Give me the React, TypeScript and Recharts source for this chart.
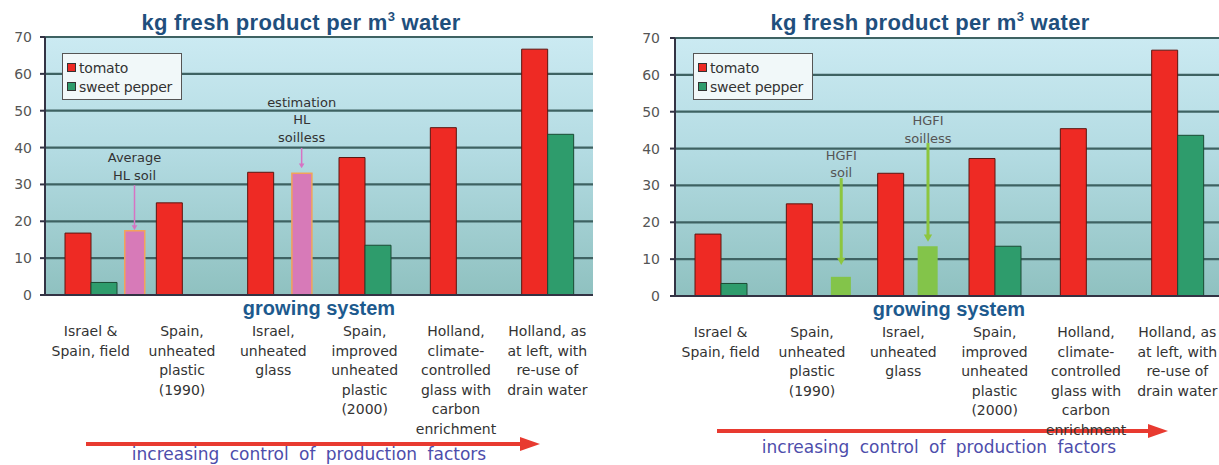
import React from 'react';
import { BarChart, Bar, XAxis, YAxis, CartesianGrid, Legend, ReferenceDot, ReferenceLine } from 'recharts';

// ---------- data ----------
const categories = [
  'Israel &\nSpain, field',
  'Spain,\nunheated\nplastic\n(1990)',
  'Israel,\nunheated\nglass',
  'Spain,\nimproved\nunheated\nplastic\n(2000)',
  'Holland,\nclimate-\ncontrolled\nglass with\ncarbon\nenrichment',
  'Holland, as\nat left, with\nre-use of\ndrain water',
];
const tomato = [16.8, 25.0, 33.3, 37.3, 45.4, 66.7];
const sweetPepper: (number | null)[] = [3.4, null, null, 13.5, null, 43.6];
const yTicks = [0, 10, 20, 30, 40, 50, 60, 70];
const legendOrder = ['tomato', 'pepper'];

// left panel annotations (HL)
const leftNotePos = [0.98, 2.81];
const leftNoteValue = [17.4, 33.0];
const leftNoteText = ['Average\nHL soil', 'estimation\nHL\nsoilless'];
const leftNoteTextAt = [37.4, 52.4];
const leftArrowFrom = [29.8, 39.9];
const leftArrowTo = [17.6, 34.4];

// right panel annotations (HGFI)
const rightNotePos = [1.82, 2.77];
const rightNoteValue = [5.2, 13.5];
const rightNoteText = ['HGFI\nsoil', 'HGFI\nsoilless'];
const rightNoteTextAt = [38.3, 47.7];
const rightArrowFrom = [32.0, 41.5];
const rightArrowTo = [8.4, 14.7];

const SMALL_FONT = '"DejaVu Sans", sans-serif';
const BOLD_FONT = '"Liberation Sans", Arial, sans-serif';

function buildRows(notePos: number[], noteValue: number[]) {
  return categories.map((cat, i) => {
    const k = notePos.findIndex((p) => Math.floor(p) === i);
    return {
      cat,
      tomato: tomato[i],
      pepper: sweetPepper[i],
      notePos: k >= 0 ? notePos[k] : i + 0.5,
      note: k >= 0 ? noteValue[k] : null,
    };
  });
}

const CatTick = (props: any) => {
  const { x, y, payload } = props;
  const lines = String(payload.value).split('\n');
  return (
    <text x={x} y={y + 33} textAnchor="middle" fontFamily={SMALL_FONT} fontSize={14} fill="#333">
      {lines.map((l, i) => (
        <tspan key={i} x={x} dy={i === 0 ? 0 : 19.6}>
          {l}
        </tspan>
      ))}
    </text>
  );
};

const LegendBox = (props: any) => {
  const items = (props.payload || [])
    .filter((p: any) => legendOrder.includes(p.dataKey))
    .sort((a: any, b: any) => legendOrder.indexOf(a.dataKey) - legendOrder.indexOf(b.dataKey));
  return (
    <div
      style={{
        width: 120,
        height: 47,
        boxSizing: 'border-box',
        background: '#f1f8f9',
        border: '1.5px solid #555',
        padding: '4px 0 0 4px',
        fontFamily: SMALL_FONT,
        fontSize: 14,
        color: '#333',
      }}
    >
      {items.map((it: any) => (
        <div key={it.dataKey} style={{ display: 'flex', alignItems: 'center', height: 19, letterSpacing: -0.2 }}>
          <span
            style={{
              display: 'inline-block',
              width: 7,
              height: 7,
              background: it.color,
              border: '1px solid #333',
              marginRight: 3,
            }}
          />
          {it.value}
        </div>
      ))}
    </div>
  );
};

type PanelProps = {
  left: number;
  width: number;
  marginTop: number;
  yAxisWidth: number;
  xAxisHeight: number;
  yTickMargin: number;
  titleX: number;
  arrowX1: number;
  arrowX2: number;
  arrowY: number;
  bottomTextX: number;
  bottomTextY: number;
  legendLeft: number;
  notePos: number[];
  noteValue: number[];
  noteText: string[];
  noteTextAt: number[];
  arrowFrom: number[];
  arrowTo: number[];
  noteFill: string;
  noteStroke: string;
  arrowColor: string;
  arrowWidth: number;
  arrowHead: number;
  noteTextColor: string;
  gid: string;
};

function Panel(p: PanelProps) {
  const rows = buildRows(p.notePos, p.noteValue);
  const xAxisCat = 'cat';
  const xAxisNote = 'note';
  return (
    <div style={{ position: 'absolute', left: p.left, top: 0 }}>
      <BarChart
        width={p.width}
        height={465}
        data={rows}
        margin={{ top: p.marginTop, right: 17, left: 0, bottom: 0 }}
        barGap={0}
      >
        <defs>
          <linearGradient id={p.gid} x1="0" y1="0" x2="0" y2="1">
            <stop offset="0%" stopColor="#cbeaf2" />
            <stop offset="45%" stopColor="#b3dbe2" />
            <stop offset="100%" stopColor="#8fc1c0" />
          </linearGradient>
        </defs>
        <text
          x={p.titleX}
          y={30}
          textAnchor="middle"
          fontFamily={BOLD_FONT}
          fontWeight="bold"
          fontSize={22}
          fill="#1f4f7d"
          letterSpacing={0.3}
        >
          <tspan>kg fresh product per m</tspan>
          <tspan dy={-9} fontSize={13}>3</tspan>
          <tspan dy={9}> water</tspan>
        </text>
        <CartesianGrid
          xAxisId={xAxisCat}
          vertical={false}
          stroke="#3e6262"
          strokeWidth={2.2}
          fill={`url(#${p.gid})`}
          fillOpacity={1}
        />
        <XAxis
          xAxisId={xAxisCat}
          dataKey="cat"
          type="category"
          interval={0}
          tickLine={false}
          axisLine={{ stroke: '#334', strokeWidth: 2 }}
          height={p.xAxisHeight}
          tick={<CatTick />}
          label={{
            value: 'growing system',
            position: 'insideTop',
            offset: 6,
            fill: '#1d5a8e',
            fontFamily: BOLD_FONT,
            fontWeight: 'bold',
            fontSize: 20,
          }}
        />
        <XAxis xAxisId={xAxisNote} dataKey="notePos" type="number" domain={[0, 6]} hide />
        <YAxis
          width={p.yAxisWidth}
          domain={[0, 70]}
          ticks={yTicks}
          interval={0}
          tickSize={5}
          tickMargin={p.yTickMargin}
          axisLine={{ stroke: '#334', strokeWidth: 2 }}
          tickLine={{ stroke: '#334', strokeWidth: 2 }}
          tick={{ fontFamily: SMALL_FONT, fontSize: 14, fill: '#555' }}
        />
        <Legend
          content={<LegendBox />}
          wrapperStyle={{ position: 'absolute', left: p.legendLeft, top: 53, width: 0, height: 0, overflow: 'visible' }}
        />
        <Bar
          xAxisId={xAxisCat}
          dataKey="tomato"
          name="tomato"
          fill="#ee2a24"
          stroke="#5c1610"
          strokeWidth={1}
          barSize={26}
          isAnimationActive={false}
        />
        <Bar
          xAxisId={xAxisCat}
          dataKey="pepper"
          name="sweet pepper"
          fill="#2e9c6c"
          stroke="#1a4a34"
          strokeWidth={1}
          barSize={26}
          isAnimationActive={false}
        />
        <Bar
          xAxisId={xAxisNote}
          dataKey="note"
          name="note"
          legendType="none"
          fill={p.noteFill}
          stroke={p.noteStroke}
          strokeWidth={p.noteStroke === 'none' ? 0 : 1.5}
          barSize={20}
          isAnimationActive={false}
        />
        {p.notePos.map((pos, i) => (
          <ReferenceLine
            key={'l' + i}
            xAxisId={xAxisNote}
            segment={[
              { x: pos, y: p.arrowFrom[i] },
              { x: pos, y: p.arrowTo[i] },
            ]}
            stroke={p.arrowColor}
            shape={(sp: any) => {
              const { x1, y1, x2, y2 } = sp;
              const h = p.arrowHead;
              return (
                <g>
                  <line x1={x1} y1={y1} x2={x2} y2={y2 - h} stroke={p.arrowColor} strokeWidth={p.arrowWidth} />
                  <polygon
                    points={`${x2 - h * 0.7},${y2 - h * 1.2} ${x2 + h * 0.7},${y2 - h * 1.2} ${x2},${y2}`}
                    fill={p.arrowColor}
                  />
                </g>
              );
            }}
          />
        ))}
        {p.notePos.map((pos, i) => (
          <ReferenceDot
            key={'t' + i}
            xAxisId={xAxisNote}
            x={pos}
            y={p.noteTextAt[i]}
            r={1}
            shape={(sp: any) => {
              const lines = p.noteText[i].split('\n');
              return (
                <text
                  x={sp.cx}
                  y={sp.cy + 5}
                  textAnchor="middle"
                  fontFamily={SMALL_FONT}
                  fontSize={13}
                  fill={p.noteTextColor}
                >
                  {lines.map((l, j) => (
                    <tspan key={j} x={sp.cx} dy={j === 0 ? 0 : 17.5}>
                      {l}
                    </tspan>
                  ))}
                </text>
              );
            }}
          />
        ))}
        <g>
          <line x1={p.arrowX1} y1={p.arrowY} x2={p.arrowX2 - 18} y2={p.arrowY} stroke="#e83a30" strokeWidth={4} />
          <polygon
            points={`${p.arrowX2 - 20},${p.arrowY - 7} ${p.arrowX2},${p.arrowY} ${p.arrowX2 - 20},${p.arrowY + 7}`}
            fill="#e83a30"
          />
        </g>
        <text
          x={p.bottomTextX}
          y={p.bottomTextY}
          textAnchor="middle"
          fontFamily={SMALL_FONT}
          fontSize={17}
          fill="#4d4dab"
          wordSpacing={5}
        >
          increasing control of production factors
        </text>
      </BarChart>
    </div>
  );
}

export default function App() {
  return (
    <div
      style={{
        position: 'absolute',
        left: 0,
        top: 0,
        width: 1219,
        height: 465,
        overflow: 'hidden',
        background: '#fff',
      }}
    >
      <Panel
        left={0}
        width={610}
        marginTop={37}
        yAxisWidth={45}
        xAxisHeight={170}
        yTickMargin={8}
        titleX={301}
        arrowX1={86}
        arrowX2={540}
        arrowY={444}
        bottomTextX={309}
        bottomTextY={460}
        legendLeft={62}
        notePos={leftNotePos}
        noteValue={leftNoteValue}
        noteText={leftNoteText}
        noteTextAt={leftNoteTextAt}
        arrowFrom={leftArrowFrom}
        arrowTo={leftArrowTo}
        noteFill="#d77ab8"
        noteStroke="#f2a35a"
        arrowColor="#d673c3"
        arrowWidth={1.5}
        arrowHead={4}
        noteTextColor="#333"
        gid="bgL"
      />
      <Panel
        left={610}
        width={630}
        marginTop={38}
        yAxisWidth={65}
        xAxisHeight={169}
        yTickMargin={10}
        titleX={320}
        arrowX1={107}
        arrowX2={558}
        arrowY={431}
        bottomTextX={329}
        bottomTextY={453}
        legendLeft={83}
        notePos={rightNotePos}
        noteValue={rightNoteValue}
        noteText={rightNoteText}
        noteTextAt={rightNoteTextAt}
        arrowFrom={rightArrowFrom}
        arrowTo={rightArrowTo}
        noteFill="#83c44a"
        noteStroke="none"
        arrowColor="#8dc63f"
        arrowWidth={3}
        arrowHead={6}
        noteTextColor="#555"
        gid="bgR"
      />
    </div>
  );
}
